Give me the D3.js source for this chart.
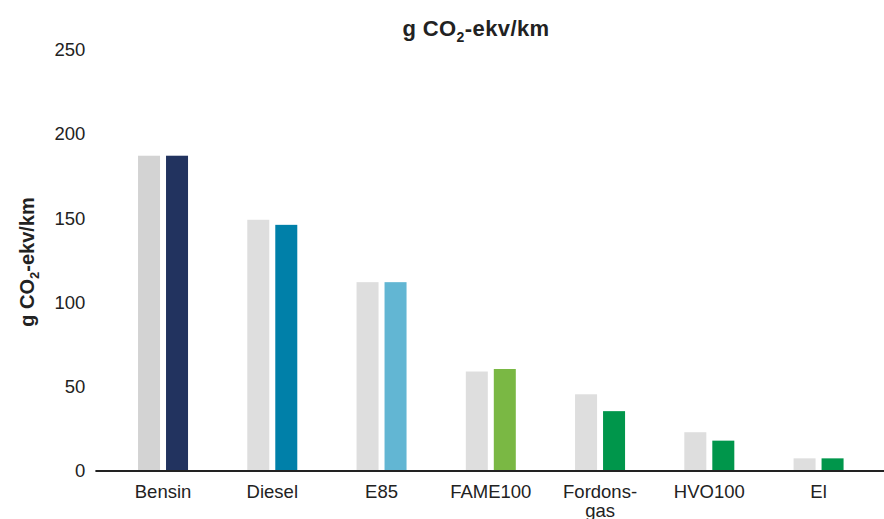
<!DOCTYPE html>
<html>
<head>
<meta charset="utf-8">
<script src="https://cdn.jsdelivr.net/npm/d3@7"></script>
<style>
  body { margin: 0; background: #fff; }
  svg { display: block; font-family: "Liberation Sans", Arial, Helvetica, sans-serif; }
</style>
</head>
<body>
<div id="chart"></div>
<script>
const categories = ["Bensin", "Diesel", "E85", "FAME100", "Fordonsgas", "HVO100", "El"];
const tickLabels = [["Bensin"], ["Diesel"], ["E85"], ["FAME100"], ["Fordons-", "gas"], ["HVO100"], ["El"]];
const referenceValues = [187, 149, 112, 59, 45.5, 23, 7.5];
const fuelValues = [187, 146, 112, 60.5, 35.5, 18, 7.5];
const referenceColors = ["#d3d3d3", "#dedede", "#dedede", "#dedede", "#dedede", "#dedede", "#dedede"];
const fuelColors = ["#22335f", "#0080a9", "#62b6d3", "#7ab844", "#00964b", "#00964b", "#00964b"];
const yTicks = [0, 50, 100, 150, 200, 250];

const width = 884;
const height = 519;
const marginTop = 49.5;
const marginBottom = 48;
const marginLeft = 108.4;
const marginRight = 10.8;

const svg = d3.select("#chart").append("svg")
  .attr("width", width)
  .attr("height", height);

const x = d3.scaleBand()
  .domain(categories)
  .range([marginLeft, width - marginRight]);

const groupWidth = 50;
const x1 = d3.scaleBand()
  .domain(["ref", "fuel"])
  .range([(x.bandwidth() - groupWidth) / 2, (x.bandwidth() + groupWidth) / 2])
  .paddingInner(0.214);

const y = d3.scaleLinear()
  .domain([0, 250])
  .range([height - marginBottom, marginTop]);

// bars
const groups = svg.append("g")
  .selectAll("g")
  .data(categories)
  .join("g")
    .attr("transform", d => `translate(${x(d)},0)`);

groups.append("rect")
  .attr("x", x1("ref"))
  .attr("width", x1.bandwidth())
  .attr("y", (d, i) => y(referenceValues[i]))
  .attr("height", (d, i) => y(0) - y(referenceValues[i]))
  .attr("fill", (d, i) => referenceColors[i]);

groups.append("rect")
  .attr("x", x1("fuel"))
  .attr("width", x1.bandwidth())
  .attr("y", (d, i) => y(fuelValues[i]))
  .attr("height", (d, i) => y(0) - y(fuelValues[i]))
  .attr("fill", (d, i) => fuelColors[i]);

// y axis, labels only
const yAxis = svg.append("g")
  .attr("transform", `translate(${marginLeft - 23},0)`)
  .call(d3.axisLeft(y).tickValues(yTicks).tickSize(0).tickPadding(0))
  .call(g => g.select(".domain").remove());
yAxis.selectAll("text")
  .attr("font-size", 18.5)
  .attr("fill", "#222")
  .attr("font-family", null);

// x axis
const xAxis = svg.append("g")
  .attr("transform", `translate(0,${y(0)})`)
  .call(d3.axisBottom(x).tickSize(0).tickPadding(0))
  .call(g => g.select(".domain").remove());
xAxis.selectAll("text")
  .attr("font-size", 18.5)
  .attr("fill", "#222")
  .attr("font-family", null)
  .attr("y", 0)
  .attr("dy", null)
  .text(null)
  .each(function(d, i) {
    const t = d3.select(this);
    tickLabels[i].forEach((line, j) => {
      t.append("tspan")
        .attr("x", 0)
        .attr("y", 27 + j * 19)
        .text(line);
    });
  });

svg.append("line")
  .attr("x1", marginLeft - 13)
  .attr("x2", width)
  .attr("y1", y(0))
  .attr("y2", y(0))
  .attr("stroke", "#222")
  .attr("stroke-width", 2);

// title
const title = svg.append("text")
  .attr("x", 476)
  .attr("y", 36)
  .attr("text-anchor", "middle")
  .attr("font-size", 22)
  .attr("font-weight", "bold")
  .attr("letter-spacing", 0.4)
  .attr("fill", "#222");
title.append("tspan").text("g CO");
title.append("tspan").attr("font-size", 14).attr("dy", 6).text("2");
title.append("tspan").attr("dy", -6).text("-ekv/km");

// y label
const ylab = svg.append("text")
  .attr("transform", `translate(34,${262}) rotate(-90)`)
  .attr("text-anchor", "middle")
  .attr("font-size", 20)
  .attr("font-weight", "bold")
  .attr("fill", "#222");
ylab.append("tspan").text("g CO");
ylab.append("tspan").attr("font-size", 13).attr("dy", 5).text("2");
ylab.append("tspan").attr("dy", -5).text("-ekv/km");
</script>
</body>
</html>
